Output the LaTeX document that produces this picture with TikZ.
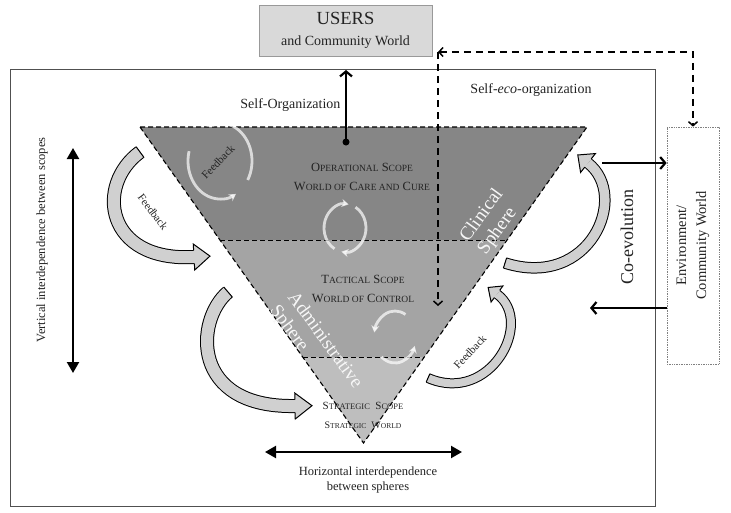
\documentclass[tikz,border=0pt]{standalone}
\usepackage{fontspec}
\setmainfont{Liberation Serif}
\usetikzlibrary{calc,arrows.meta,positioning}
\definecolor{OperGray}{RGB}{134,134,134}
\definecolor{TactGray}{RGB}{164,164,164}
\definecolor{StratGray}{RGB}{190,190,190}
\definecolor{ArrowGray}{RGB}{208,208,208}
\definecolor{BoxGray}{RGB}{217,217,217}
\definecolor{FrameGray}{RGB}{80,80,80}
\definecolor{InkGray}{RGB}{35,35,35}

% small letters of the fake small caps
\newcommand{\lc}[2][9.5]{{\fontsize{#1}{#1}\selectfont #2}}
% curved block arrow: four bezier points, shaft width, head half width, head length
\newcommand{\bendarrow}[7]{%
    \pgfmathsetmacro{\shaftout}{#5+2}
    \pgfmathsetmacro{\shafthalf}{#5/2+0.5}
    \draw[line width=\shaftout pt, black] #1 .. controls #2 and #3 .. #4;
    \draw[line width=#5pt, ArrowGray] #1 .. controls #2 and #3 .. #4;
    \draw[line width=1pt] ($#1!\shafthalf pt!90:#2$) -- ($#1!\shafthalf pt!-90:#2$);
    \fill[ArrowGray] ($#4!#6pt!90:#3$) -- ($#4!-#7pt!#3$) -- ($#4!#6pt!-90:#3$) -- cycle;
    \draw[line width=1pt, line join=miter] ($#4!\shafthalf pt!90:#3$) -- ($#4!#6pt!90:#3$)
        -- ($#4!-#7pt!#3$) -- ($#4!#6pt!-90:#3$) -- ($#4!\shafthalf pt!-90:#3$);
}

\tikzset{
    barb/.style={-{Straight Barb[length=5pt,width=12pt]}, line width=2.2pt},
    dashbarb/.style={dash pattern=on 7pt off 5pt, line width=1.5pt},
    bothway/.style={{Triangle[length=11pt,width=12pt]}-{Triangle[length=11pt,width=12pt]}, line width=2.2pt},
    edgedash/.style={dash pattern=on 5pt off 3pt, line width=1.1pt},
    cyclearc/.style={white, opacity=0.7, line width=2.8pt, -{Stealth[length=7pt,width=8pt]}},
    scopetext/.style={align=center, text=InkGray, font=\fontsize{12.5}{19}\selectfont},
    spheretext/.style={align=left, text=white!94!gray, font=\fontsize{19}{22}\selectfont},
    plaintext/.style={text=InkGray, font=\fontsize{14}{17}\selectfont},
    fbtext/.style={text=InkGray, font=\fontsize{11}{12}\selectfont},
    usersbox/.style={draw=gray!80, fill=BoxGray, line width=0.8pt, minimum width=173pt, minimum height=51pt, inner sep=0pt, align=center, text=InkGray, font=\fontsize{14}{21}\selectfont},
    envbox/.style={draw=gray, densely dotted, line width=0.7pt, minimum width=52pt, minimum height=237pt, inner sep=0pt},
}

\begin{document}
\begin{tikzpicture}[x=1pt, y=-1pt]
    \useasboundingbox (0,0) rectangle (731,512);
    \draw[FrameGray, line width=1pt] (10,69) rectangle (655,506);

    % three scopes of the triangle
    \coordinate (tl) at (140,127);
    \coordinate (tr) at (587,127);
    \coordinate (apex) at (363.5,443);
    \coordinate (ml) at ($(tl)!0.358!(apex)$);
    \coordinate (mr) at ($(tr)!0.358!(apex)$);
    \coordinate (ll) at ($(tl)!0.728!(apex)$);
    \coordinate (lr) at ($(tr)!0.728!(apex)$);
    \fill[OperGray] (tl) -- (tr) -- (mr) -- (ml) -- cycle;
    \fill[TactGray] (ml) -- (mr) -- (lr) -- (ll) -- cycle;
    \fill[StratGray] (ll) -- (lr) -- (apex) -- cycle;
    \draw[edgedash] (tl) -- (tr) -- (apex) -- cycle;
    \draw[edgedash] (ml) -- (mr);
    \draw[edgedash] (ll) -- (lr);

    \node[scopetext] (oper) at (362,176.5) {O\lc{PERATIONAL} S\lc{COPE}\\W\lc{ORLD OF} C\lc{ARE AND} C\lc{URE}};
    \node[scopetext] (tact) at (363,288.5) {T\lc{ACTICAL} S\lc{COPE}\\W\lc{ORLD OF} C\lc{ONTROL}};
    \node[scopetext] (strat) at (363,415.5) {{\fontsize{11}{19}\selectfont S\lc[8.5]{TRATEGIC}~ S\lc[8.5]{COPE}}\\{\fontsize{10}{19}\selectfont S\lc[7.5]{TRATEGIC}~ W\lc[7.5]{ORLD}}};
    \node[spheretext, rotate=54] (clinical) at (491,222) {Clinical\\Sphere};
    \node[spheretext, rotate=-54] (admin) at (315.5,347) {Administrative\\Sphere};

    % feedback cycles inside the scopes
    \foreach \cx/\cy/\rx/\ry/\a/\b in {220/161/32/38/30/-115, 220/161/32/38/195/60,
            345/228/21/24/120/280, 345/228/21/24/300/460,
            395/337/21/26/300/190, 395/337/21/26/130/20} {
        \draw[cyclearc] (\cx,\cy) ++({\rx*cos(\a)},{\ry*sin(\a)}) arc[start angle=\a, end angle=\b, x radius=\rx, y radius=\ry];
    }
    \node[fbtext, rotate=46] (fbcycle) at (218,162) {Feedback};

    % curved feedback arrows
    \bendarrow{(140,152)}{(95,185)}{(105,262)}{(194,257)}{12}{13}{16}
    \bendarrow{(228,292)}{(195,320)}{(190,408)}{(295,406)}{12}{13}{17}
    \bendarrow{(505,263)}{(590,290)}{(630,196)}{(588,163)}{9.5}{12}{13}
    \bendarrow{(428,378)}{(490,405)}{(535,322)}{(497,294)}{8}{10}{11}
    \node[fbtext, rotate=-53] (fbleft) at (153,212) {Feedback};
    \node[fbtext, rotate=47] (fbright) at (470,352) {Feedback};

    % users and self-organization
    \node[usersbox] (users) at (345.5,30.5) {{\fontsize{18.5}{21}\selectfont USERS}\\and Community World};
    \node[circle, fill=black, inner sep=0pt, minimum size=7pt] (selfdot) at (346,142) {};
    \coordinate (orgtop) at (346,70);
    \draw[barb] (selfdot.center) -- (orgtop);
    \node[plaintext, anchor=east] (selforg) at (344,105) {Self-Organization};
    \node[plaintext] (selfeco) at (531,90) {Self-\textit{eco}-organization};

    % environment and co-evolution
    \node[envbox] (env) at (693,245.5) {};
    \node[rotate=90, align=center, text=InkGray, font=\fontsize{14.5}{20}\selectfont] (envtext) at (env.center) {Environment/\\Community World};
    \coordinate (corner) at (438,52);
    \coordinate (dashend) at (438,306);
    \draw[dashbarb, {Straight Barb[length=4pt,width=9pt]}-{Straight Barb[length=4pt,width=9pt]}] (corner) -| (env.north);
    \draw[dashbarb, -{Straight Barb[length=4pt,width=9pt]}] (corner) -- (dashend);
    \coordinate (coout) at (602,163);
    \coordinate (coin) at (590,308);
    \draw[barb] (coout) -- (coout -| env.west);
    \draw[barb] (coin -| env.west) -- (coin);
    \node[rotate=90, text=InkGray, font=\fontsize{18}{20}\selectfont] (coevo) at (627,237) {Co-evolution};

    % interdependences
    \coordinate (vtop) at (73,148);
    \coordinate (vbot) at (73,373);
    \draw[bothway] (vtop) -- (vbot);
    \node[rotate=90, text=InkGray, font=\fontsize{12.5}{15}\selectfont] (vtext) at (42,240) {Vertical interdependence between scopes};
    \coordinate (hleft) at (265,452);
    \coordinate (hright) at (462,452);
    \draw[bothway] (hleft) -- (hright);
    \node[align=center, text=InkGray, font=\fontsize{12.5}{15}\selectfont] (htext) at (368,480) {Horizontal interdependence\\between spheres};
\end{tikzpicture}
\end{document}
